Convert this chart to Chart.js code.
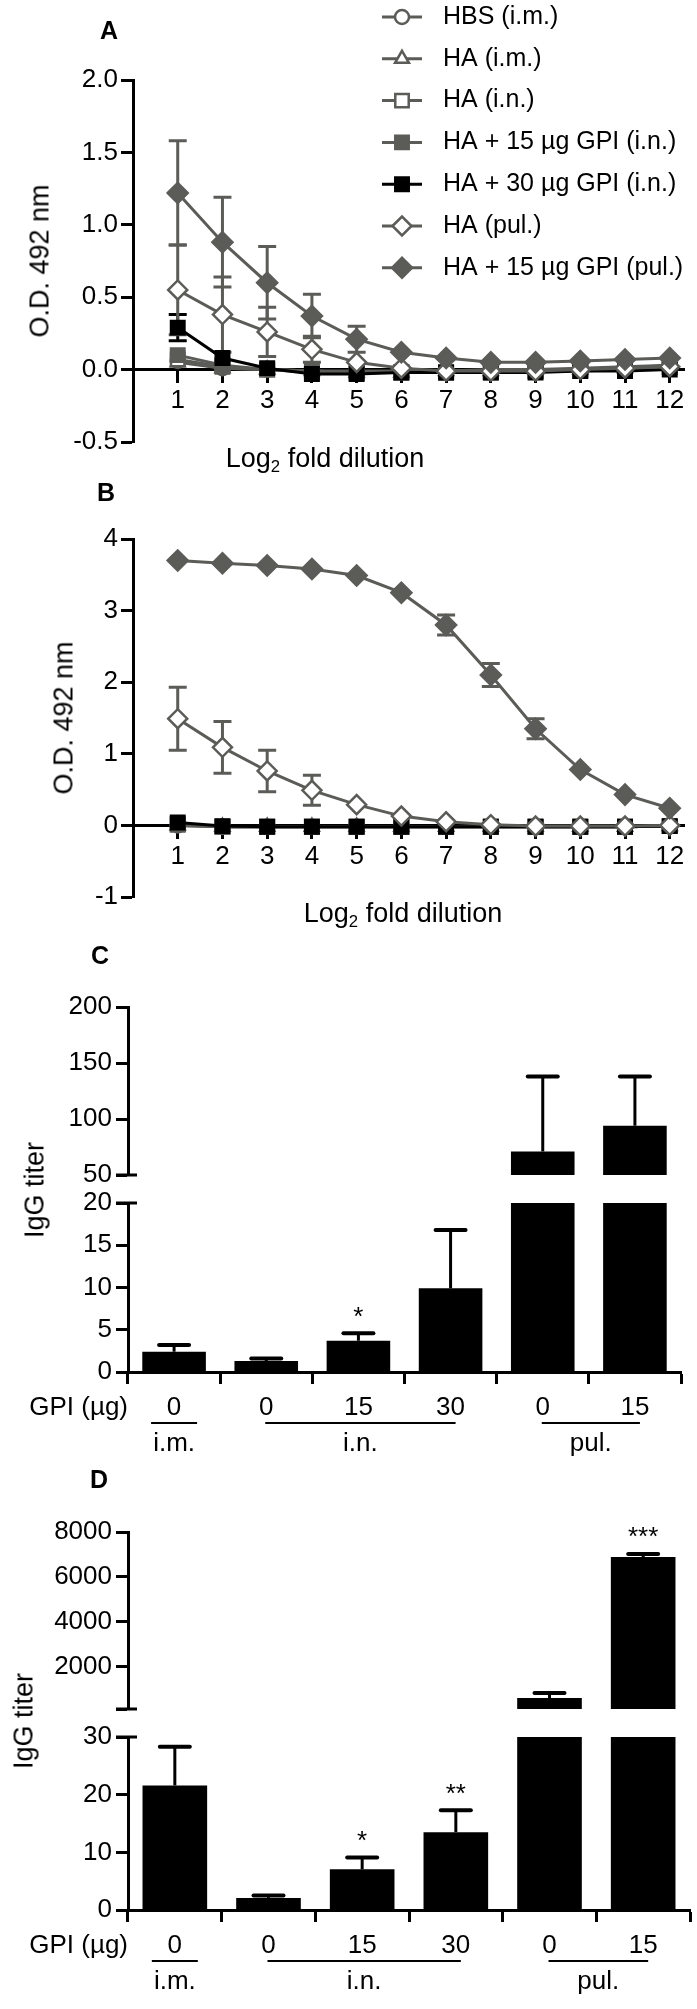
<!DOCTYPE html>
<html>
<head>
<meta charset="utf-8">
<script src="https://cdn.jsdelivr.net/npm/chart.js@4.4.1/dist/chart.umd.min.js"></script>
<style>
  html, body { margin: 0; padding: 0; background: #fff; }
  body { width: 697px; height: 2009px; position: relative; overflow: hidden;
         font-family: 'Liberation Sans', Arial, Helvetica, sans-serif; color: #000; }
  .box { position: absolute; left: 0; width: 697px; }
  .txt { position: absolute; transform: translate(-50%, -50%); white-space: nowrap; line-height: 1; }
  .rot { transform: translate(-50%, -50%) rotate(-90deg); }
  .letter { font-weight: bold; font-size: 25px; }
  .title { font-size: 27px; }
  sub { font-size: 0.62em; vertical-align: -0.3em; line-height: 0; }
</style>
</head>
<body>
<div class="box" style="top:0;height:470px"><canvas id="panelA"></canvas></div>
<div class="box" style="top:470px;height:470px"><canvas id="panelB"></canvas></div>
<div class="box" style="top:960px;height:240px"><canvas id="panelCtop"></canvas></div>
<div class="box" style="top:1180px;height:290px"><canvas id="panelCbottom"></canvas></div>
<div class="box" style="top:1490px;height:245px"><canvas id="panelDtop"></canvas></div>
<div class="box" style="top:1715px;height:294px"><canvas id="panelDbottom"></canvas></div>

<div class="txt letter" style="left:109px;top:30px">A</div>
<div class="txt title rot" style="left:40px;top:261px">O.D. 492 nm</div>
<div class="txt title" style="left:325px;top:458px">Log<sub>2</sub> fold dilution</div>
<div class="txt letter" style="left:106px;top:492px">B</div>
<div class="txt title rot" style="left:64px;top:718px">O.D. 492 nm</div>
<div class="txt title" style="left:403px;top:913px">Log<sub>2</sub> fold dilution</div>
<div class="txt letter" style="left:100px;top:955px">C</div>
<div class="txt title rot" style="left:35px;top:1190px">IgG titer</div>
<div class="txt letter" style="left:99px;top:1479px">D</div>
<div class="txt title rot" style="left:24px;top:1721px">IgG titer</div>

<script>
const FONT = "'Liberation Sans', Arial, Helvetica, sans-serif";
const gray = '#5b5c58';

// ---- data: ELISA curves (A, B) ----
const dilutions = [1, 2, 3, 4, 5, 6, 7, 8, 9, 10, 11, 12];
const groupLabels = ['HBS (i.m.)', 'HA (i.m.)', 'HA (i.n.)', 'HA + 15 µg GPI (i.n.)',
                     'HA + 30 µg GPI (i.n.)', 'HA (pul.)', 'HA + 15 µg GPI (pul.)'];
const odTicksA = [-0.5, 0, 0.5, 1, 1.5, 2];
const odTicksB = [-1, 0, 1, 2, 3, 4];

// panel A means
const odA_hbs      = [0.06, 0.01, 0.00, -0.01, -0.01, -0.01, -0.01, 0.00, 0.00, 0.01, 0.02, 0.03];
const odA_haIm     = [0.05, 0.01, 0.00, -0.01, -0.02, -0.02, -0.01, -0.01, 0.00, 0.00, 0.01, 0.03];
const odA_haIn     = [0.07, 0.02, 0.00, -0.01, -0.02, -0.02, -0.02, -0.01, -0.01, 0.00, 0.01, 0.02];
const odA_gpi15In  = [0.10, 0.03, 0.00, -0.02, -0.02, -0.02, -0.02, -0.02, -0.01, -0.01, 0.00, 0.02];
const odA_gpi30In  = [0.29, 0.08, 0.01, -0.03, -0.03, -0.02, -0.02, -0.02, -0.02, -0.01, -0.01, 0.00];
const odA_haPul    = [0.55, 0.38, 0.26, 0.14, 0.05, 0.01, -0.01, -0.01, -0.01, 0.00, 0.01, 0.02];
const odA_gpi15Pul = [1.22, 0.88, 0.60, 0.37, 0.21, 0.12, 0.08, 0.05, 0.05, 0.06, 0.07, 0.08];
// panel A SD
const sdA_hbs      = [0.03, 0.01, 0.01, 0.01, 0.01, 0.01, 0.01, 0.01, 0.01, 0.01, 0.01, 0.01];
const sdA_haIm     = [0.02, 0.01, 0.01, 0.01, 0.01, 0.01, 0.01, 0.01, 0.01, 0.01, 0.01, 0.01];
const sdA_haIn     = [0.03, 0.01, 0.01, 0.01, 0.01, 0.01, 0.01, 0.01, 0.01, 0.01, 0.01, 0.01];
const sdA_gpi15In  = [0.05, 0.02, 0.01, 0.01, 0.01, 0.01, 0.01, 0.01, 0.01, 0.01, 0.01, 0.01];
const sdA_gpi30In  = [0.09, 0.04, 0.02, 0.01, 0.01, 0.01, 0.01, 0.01, 0.01, 0.01, 0.01, 0.01];
const sdA_haPul    = [0.31, 0.26, 0.17, 0.09, 0.06, 0.02, 0.01, 0.01, 0.01, 0.01, 0.01, 0.01];
const sdA_gpi15Pul = [0.36, 0.31, 0.25, 0.15, 0.09, 0.04, 0.02, 0.02, 0.02, 0.02, 0.02, 0.02];

// panel B means
const odB_hbs      = [0.00, -0.02, -0.02, -0.02, -0.02, -0.02, -0.02, -0.02, -0.02, -0.02, -0.02, -0.01];
const odB_haIm     = [0.00, -0.02, -0.02, -0.02, -0.02, -0.02, -0.02, -0.02, -0.02, -0.02, -0.02, -0.01];
const odB_haIn     = [0.01, -0.02, -0.02, -0.02, -0.02, -0.02, -0.02, -0.02, -0.02, -0.02, -0.02, -0.01];
const odB_gpi15In  = [0.02, -0.02, -0.02, -0.02, -0.02, -0.02, -0.02, -0.02, -0.02, -0.02, -0.02, -0.01];
const odB_gpi30In  = [0.04, -0.01, -0.02, -0.02, -0.02, -0.02, -0.02, -0.02, -0.02, -0.02, -0.02, -0.01];
const odB_haPul    = [1.49, 1.09, 0.76, 0.49, 0.29, 0.13, 0.05, 0.01, -0.01, -0.01, -0.01, 0.00];
const odB_gpi15Pul = [3.70, 3.66, 3.63, 3.58, 3.49, 3.25, 2.80, 2.10, 1.35, 0.78, 0.43, 0.24];
// panel B SD
const sdB_hbs      = [0.01, 0.01, 0.01, 0.01, 0.01, 0.01, 0.01, 0.01, 0.01, 0.01, 0.01, 0.01];
const sdB_haIm     = [0.01, 0.01, 0.01, 0.01, 0.01, 0.01, 0.01, 0.01, 0.01, 0.01, 0.01, 0.01];
const sdB_haIn     = [0.01, 0.01, 0.01, 0.01, 0.01, 0.01, 0.01, 0.01, 0.01, 0.01, 0.01, 0.01];
const sdB_gpi15In  = [0.02, 0.01, 0.01, 0.01, 0.01, 0.01, 0.01, 0.01, 0.01, 0.01, 0.01, 0.01];
const sdB_gpi30In  = [0.03, 0.01, 0.01, 0.01, 0.01, 0.01, 0.01, 0.01, 0.01, 0.01, 0.01, 0.01];
const sdB_haPul    = [0.44, 0.36, 0.29, 0.21, 0.13, 0.04, 0.02, 0.01, 0.01, 0.01, 0.01, 0.01];
const sdB_gpi15Pul = [0.02, 0.02, 0.02, 0.02, 0.03, 0.05, 0.14, 0.16, 0.14, 0.13, 0.05, 0.03];

// ---- data: IgG titers (C, D) ----
const gpiDoses = ['0', '0', '15', '30', '0', '15'];
const routeGroups = [['i.m.', 0, 0], ['i.n.', 1, 3], ['pul.', 4, 5]];
const titerC = [2.4, 1.3, 3.7, 9.9, 71, 94];
const errC   = [0.8, 0.3, 0.9, 6.9, 67, 44];
const starsC = ['', '', '*', '', '', ''];
const titerD = [21.6, 2.1, 7.05, 13.5, 590, 6880];
const errD   = [6.7, 0.4, 2.05, 3.8, 225, 140];
const starsD = ['', '', '*', '**', '', '***'];
const ticksCtop = [50, 100, 150, 200];
const ticksCbot = [0, 5, 10, 15, 20];
const ticksDtop = [100, 2000, 4000, 6000, 8000];
const ticksDbot = [0, 10, 20, 30];

// ---- styles ----
const markers = [
  { style: 'circle',   r: 7,   fill: '#fff', color: gray },
  { style: 'triangle', r: 8,   fill: '#fff', color: gray },
  { style: 'rect',     r: 9.5, fill: '#fff', color: gray },
  { style: 'rect',     r: 9.5, fill: gray,   color: gray },
  { style: 'rect',     r: 9.5, fill: '#000', color: '#000' },
  { style: 'rectRot',  r: 9.5, fill: '#fff', color: gray },
  { style: 'rectRot',  r: 10,  fill: gray,   color: gray },
];

function lineDatasets(means, sds) {
  return means.map((vals, k) => {
    const m = markers[k];
    return {
      label: groupLabels[k],
      data: dilutions.map((x, i) => ({ x, y: vals[i] })),
      sd: sds[k],
      borderColor: m.color,
      borderWidth: 3,
      pointStyle: m.style,
      pointRadius: m.r,
      pointHoverRadius: m.r,
      pointBackgroundColor: m.fill,
      pointBorderColor: m.color,
      pointBorderWidth: 2.5,
      tension: 0,
      order: means.length - k,
      clip: false
    };
  });
}

const tickFont = { family: FONT, size: 26 };
const gridStyle = { drawOnChartArea: false, drawTicks: true, tickLength: 12, tickWidth: 3, color: '#000' };
const borderStyle = { display: true, color: '#000', width: 3 };

// error bars (both directions), hidden when shorter than the symbol
const lineErrors = {
  id: 'lineErrors',
  beforeDatasetsDraw(chart) {
    const { ctx, scales: { x, y } } = chart;
    ctx.save();
    ctx.lineWidth = 3;
    chart.data.datasets.forEach(ds => {
      ctx.strokeStyle = ds.borderColor;
      ds.data.forEach((p, i) => {
        const px = x.getPixelForValue(p.x);
        const mid = y.getPixelForValue(p.y);
        const hi = y.getPixelForValue(p.y + ds.sd[i]);
        const lo = y.getPixelForValue(p.y - ds.sd[i]);
        if (mid - hi < ds.pointRadius) return;
        ctx.beginPath();
        ctx.moveTo(px, hi); ctx.lineTo(px, lo);
        ctx.moveTo(px - 9, hi); ctx.lineTo(px + 9, hi);
        ctx.moveTo(px - 9, lo); ctx.lineTo(px + 9, lo);
        ctx.stroke();
      });
    });
    ctx.restore();
  }
};

const groupLegend = {
  id: 'groupLegend',
  afterDraw(chart, args, o) {
    const ctx = chart.ctx;
    ctx.save();
    chart.data.datasets.forEach((ds, i) => {
      const y = o.top + i * o.gap;
      ctx.strokeStyle = ds.borderColor;
      ctx.lineWidth = 3;
      ctx.beginPath(); ctx.moveTo(o.x0, y); ctx.lineTo(o.x1, y); ctx.stroke();
      ctx.fillStyle = ds.pointBackgroundColor;
      ctx.strokeStyle = ds.pointBorderColor;
      ctx.lineWidth = ds.pointBorderWidth;
      Chart.helpers.drawPoint(ctx, { pointStyle: ds.pointStyle, radius: ds.pointRadius,
        rotation: 0, borderWidth: ds.pointBorderWidth }, (o.x0 + o.x1) / 2, y);
      ctx.fillStyle = '#000';
      ctx.font = `25px ${FONT}`;
      ctx.textAlign = 'left';
      ctx.textBaseline = 'middle';
      ctx.fillText(ds.label, o.textX, y);
    });
    ctx.restore();
  }
};

function odChart(id, datasets, ticks, pad, fmt, withLegend) {
  return new Chart(document.getElementById(id), {
    type: 'line',
    data: { datasets },
    plugins: withLegend ? [lineErrors, groupLegend] : [lineErrors],
    options: {
      responsive: true,
      maintainAspectRatio: false,
      animation: false,
      layout: { padding: { top: pad[0], bottom: pad[1], left: 0, right: 7 } },
      plugins: {
        legend: { display: false },
        tooltip: { enabled: false },
        groupLegend: { top: 17, gap: 41.8, x0: 382, x1: 422, textX: 443 }
      },
      scales: {
        x: {
          type: 'linear', min: 0, max: 12.33, position: { y: 0 },
          afterBuildTicks: s => { s.ticks = dilutions.map(v => ({ value: v })); },
          grid: gridStyle, border: borderStyle,
          ticks: { color: '#000', font: tickFont, padding: 4, autoSkip: false, maxRotation: 0 }
        },
        y: {
          min: ticks[0], max: ticks[ticks.length - 1],
          afterBuildTicks: s => { s.ticks = ticks.map(v => ({ value: v })); },
          afterFit: s => { s.width = 133; },
          grid: gridStyle, border: borderStyle,
          ticks: { color: '#000', font: tickFont, padding: 3, callback: fmt }
        }
      }
    }
  });
}

odChart('panelA',
  lineDatasets([odA_hbs, odA_haIm, odA_haIn, odA_gpi15In, odA_gpi30In, odA_haPul, odA_gpi15Pul],
               [sdA_hbs, sdA_haIm, sdA_haIn, sdA_gpi15In, sdA_gpi30In, sdA_haPul, sdA_gpi15Pul]),
  odTicksA, [80, 28], v => Number(v).toFixed(1), true);

odChart('panelB',
  lineDatasets([odB_hbs, odB_haIm, odB_haIn, odB_gpi15In, odB_gpi30In, odB_haPul, odB_gpi15Pul],
               [sdB_hbs, sdB_haIm, sdB_haIn, sdB_gpi15In, sdB_gpi30In, sdB_haPul, sdB_gpi15Pul]),
  odTicksB, [69, 43], v => String(v), false);

// bar error caps (upward only), significance stars, axis-break tick
const barMarks = {
  id: 'barMarks',
  afterDatasetsDraw(chart, args, o) {
    const { ctx, chartArea, scales: { x, y } } = chart;
    const ds = chart.data.datasets[0];
    ctx.save();
    ctx.strokeStyle = '#000';
    ctx.fillStyle = '#000';
    ds.data.forEach((v, i) => {
      const top = v + ds.err[i];
      if (v > y.max || top < y.min) return;
      const px = x.getPixelForValue(i);
      const y0 = y.getPixelForValue(Math.max(v, y.min));
      const y1 = y.getPixelForValue(top);
      ctx.lineWidth = 3; ctx.lineCap = 'butt';
      ctx.beginPath(); ctx.moveTo(px, y0); ctx.lineTo(px, y1); ctx.stroke();
      ctx.lineWidth = 4; ctx.lineCap = 'round';
      ctx.beginPath(); ctx.moveTo(px - 15, y1); ctx.lineTo(px + 15, y1); ctx.stroke();
      if (ds.stars[i]) {
        ctx.font = `26px ${FONT}`;
        ctx.textAlign = 'center';
        ctx.textBaseline = 'alphabetic';
        ctx.fillText(ds.stars[i], px, y1 - 22 + 0.52 * 26);
      }
    });
    // short mark across the axis where the segment is cut
    const by = o.lower ? chartArea.top : chartArea.bottom;
    ctx.lineWidth = 3; ctx.lineCap = 'butt';
    ctx.beginPath(); ctx.moveTo(chartArea.left - 12, by); ctx.lineTo(chartArea.left + 9, by); ctx.stroke();
    ctx.restore();
  }
};

// GPI dose row, route underlines and route names under the lower segment
const doseAxis = {
  id: 'doseAxis',
  afterDraw(chart) {
    const { ctx, chartArea, scales: { x } } = chart;
    const base = chartArea.bottom;
    const c = i => x.getPixelForValue(i);
    ctx.save();
    ctx.fillStyle = '#000';
    ctx.strokeStyle = '#000';
    ctx.font = `26px ${FONT}`;
    ctx.textBaseline = 'middle';
    ctx.textAlign = 'right';
    ctx.fillText('GPI (µg)', chartArea.left, base + 36);
    ctx.textAlign = 'center';
    ctx.lineWidth = 2;
    routeGroups.forEach(([name, a, b]) => {
      const x0 = a === b ? c(a) - 23 : c(a) - 1;
      const x1 = a === b ? c(a) + 23 : c(b) + 5;
      ctx.beginPath(); ctx.moveTo(x0, base + 51); ctx.lineTo(x1, base + 51); ctx.stroke();
      ctx.fillText(name, a === b ? c(a) : (x0 + x1) / 2, base + 72);
    });
    ctx.restore();
  }
};

function titerChart(id, values, errs, stars, ticks, pad, rightPad, lower) {
  return new Chart(document.getElementById(id), {
    type: 'bar',
    data: {
      labels: gpiDoses,
      datasets: [{
        data: values, err: errs, stars,
        backgroundColor: '#000', borderWidth: 0,
        barPercentage: 0.69, categoryPercentage: 1, clip: 0
      }]
    },
    plugins: lower ? [barMarks, doseAxis] : [barMarks],
    options: {
      responsive: true,
      maintainAspectRatio: false,
      animation: false,
      layout: { padding: { top: pad[0], bottom: lower ? 0 : pad[1], left: 0, right: rightPad } },
      plugins: { legend: { display: false }, tooltip: { enabled: false }, barMarks: { lower } },
      scales: {
        x: lower ? {
          afterFit: s => { s.height = pad[1]; },
          grid: gridStyle, border: borderStyle,
          ticks: { color: '#000', font: tickFont, padding: 8, autoSkip: false, maxRotation: 0 }
        } : { display: false },
        y: {
          min: ticks[0], max: ticks[ticks.length - 1],
          afterBuildTicks: s => { s.ticks = ticks.map(v => ({ value: v })); },
          afterFit: s => { s.width = 128; },
          grid: gridStyle, border: borderStyle,
          ticks: { color: '#000', font: tickFont, padding: 4,
                   callback: v => (id === 'panelDtop' && v === 100) ? '' : String(v) }
        }
      }
    }
  });
}

titerChart('panelCtop', titerC, errC, starsC, ticksCtop, [47, 25], 16, false);
titerChart('panelCbottom', titerC, errC, starsC, ticksCbot, [23, 98], 16, true);
titerChart('panelDtop', titerD, errD, starsD, ticksDtop, [42, 26], 7, false);
titerChart('panelDbottom', titerD, errD, starsD, ticksDbot, [22, 99], 7, true);
</script>
</body>
</html>
